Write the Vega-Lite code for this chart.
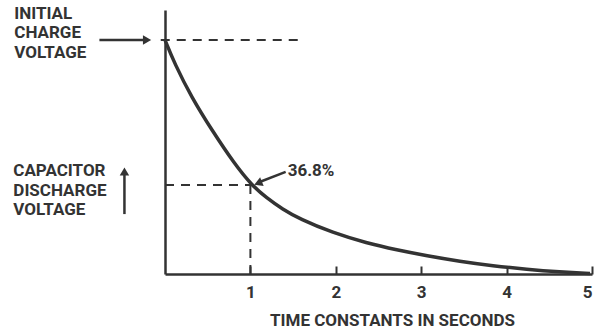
{
  "$schema": "https://vega.github.io/schema/vega-lite/v6.json",
  "width": 427,
  "height": 264,
  "autosize": {"type": "none"},
  "padding": {"left": 165, "top": 10, "right": 14, "bottom": 58},
  "background": "#ffffff",
  "config": {
    "view": {"stroke": null},
    "font": "Roboto, Liberation Sans, sans-serif"
  },
  "datasets": {
    "curve": [
      {"t": 0.0, "v": 1.0},
      {"t": 0.111, "v": 0.9},
      {"t": 0.311, "v": 0.755},
      {"t": 0.557, "v": 0.61},
      {"t": 0.815, "v": 0.47},
      {"t": 1.014, "v": 0.38},
      {"t": 1.19, "v": 0.325},
      {"t": 1.377, "v": 0.277},
      {"t": 1.577, "v": 0.235},
      {"t": 1.964, "v": 0.176},
      {"t": 2.362, "v": 0.132},
      {"t": 2.714, "v": 0.103},
      {"t": 3.066, "v": 0.078},
      {"t": 3.453, "v": 0.054},
      {"t": 3.839, "v": 0.035},
      {"t": 4.238, "v": 0.02},
      {"t": 4.625, "v": 0.009},
      {"t": 4.977, "v": 0.002}
    ],
    "dashed": [
      {"t": -0.05, "v": 1.0, "t2": 1.577, "v2": 1.0},
      {"t": 0.0, "v": 0.38, "t2": 1.0, "v2": 0.38},
      {"t": 1.0, "v": 0.0, "t2": 1.0, "v2": 0.38}
    ],
    "arrows": [
      {"t": -0.768, "v": 1.0, "t2": -0.2, "v2": 1.0},
      {"t": -0.475, "v": 0.256, "t2": -0.475, "v2": 0.43},
      {"t": 1.413, "v": 0.436, "t2": 1.1, "v2": 0.392}
    ],
    "heads": [
      {"name": "initial", "t": -0.21, "v": 1.0},
      {"name": "up", "t": -0.475, "v": 0.438},
      {"name": "pct", "t": 1.09, "v": 0.388}
    ],
    "labels": [
      {"text": "INITIAL", "t": -1.765, "v": 1.113},
      {"text": "CHARGE", "t": -1.765, "v": 1.03},
      {"text": "VOLTAGE", "t": -1.765, "v": 0.944},
      {"text": "CAPACITOR", "t": -1.776, "v": 0.44},
      {"text": "DISCHARGE", "t": -1.776, "v": 0.355},
      {"text": "VOLTAGE", "t": -1.776, "v": 0.274},
      {"text": "36.8%", "t": 1.436, "v": 0.44}
    ]
  },
  "layer": [
    {
      "data": {"name": "curve"},
      "mark": {"type": "line", "color": "#333333", "strokeWidth": 3.5, "interpolate": "basis", "clip": false},
      "encoding": {
        "x": {"field": "t", "type": "quantitative", "scale": {"domain": [0, 5], "nice": false, "zero": false},
          "axis": {
            "values": [1, 2, 3, 4, 5],
            "format": "d",
            "grid": false,
            "domainColor": "#333333",
            "domainWidth": 2.5,
            "ticks": true,
            "tickSize": -8,
            "tickWidth": 2,
            "tickColor": "#333333",
            "labelFont": "Roboto, Liberation Sans, sans-serif",
            "labelFontSize": 17,
            "labelFontWeight": "bold",
            "labelColor": "#333333",
            "labelPadding": 26,
            "labelBaseline": "middle",
            "title": "TIME CONSTANTS IN SECONDS",
            "titleFont": "Roboto, Liberation Sans, sans-serif",
            "titleFontSize": 17,
            "titleFontWeight": "bold",
            "titleColor": "#333333",
            "titleX": 227,
            "titleY": 46,
            "titleAlign": "center",
            "titleBaseline": "middle"
          }
        },
        "y": {"field": "v", "type": "quantitative", "scale": {"domain": [0, 1.128], "nice": false, "zero": false},
          "axis": {
            "grid": false,
            "ticks": false,
            "labels": false,
            "title": null,
            "domainColor": "#333333",
            "domainWidth": 2.5
          }
        }
      }
    },
    {
      "data": {"name": "dashed"},
      "mark": {"type": "rule", "color": "#333333", "strokeWidth": 2, "strokeDash": [9, 7], "clip": false},
      "encoding": {
        "x": {"field": "t", "type": "quantitative"},
        "x2": {"field": "t2"},
        "y": {"field": "v", "type": "quantitative"},
        "y2": {"field": "v2"}
      }
    },
    {
      "data": {"name": "arrows"},
      "mark": {"type": "rule", "color": "#333333", "strokeWidth": 2.5, "clip": false},
      "encoding": {
        "x": {"field": "t", "type": "quantitative"},
        "x2": {"field": "t2"},
        "y": {"field": "v", "type": "quantitative"},
        "y2": {"field": "v2"}
      }
    },
    {
      "data": {"name": "heads"},
      "transform": [{"filter": "datum.name === 'initial'"}],
      "mark": {"type": "point", "shape": "triangle-right", "filled": true, "size": 90, "color": "#333333", "opacity": 1, "clip": false},
      "encoding": {
        "x": {"field": "t", "type": "quantitative"},
        "y": {"field": "v", "type": "quantitative"}
      }
    },
    {
      "data": {"name": "heads"},
      "transform": [{"filter": "datum.name === 'up'"}],
      "mark": {"type": "point", "shape": "triangle-up", "filled": true, "size": 90, "color": "#333333", "opacity": 1, "clip": false},
      "encoding": {
        "x": {"field": "t", "type": "quantitative"},
        "y": {"field": "v", "type": "quantitative"}
      }
    },
    {
      "data": {"name": "heads"},
      "transform": [{"filter": "datum.name === 'pct'"}],
      "mark": {"type": "point", "shape": "triangle-right", "angle": 158, "filled": true, "size": 90, "color": "#333333", "opacity": 1, "clip": false},
      "encoding": {
        "x": {"field": "t", "type": "quantitative"},
        "y": {"field": "v", "type": "quantitative"}
      }
    },
    {
      "data": {"name": "labels"},
      "mark": {"type": "text", "align": "left", "baseline": "middle", "fontSize": 17, "fontWeight": "bold", "color": "#333333", "clip": false,
        "font": "Roboto, Liberation Sans, sans-serif"},
      "encoding": {
        "x": {"field": "t", "type": "quantitative"},
        "y": {"field": "v", "type": "quantitative"},
        "text": {"field": "text", "type": "nominal"}
      }
    }
  ]
}
